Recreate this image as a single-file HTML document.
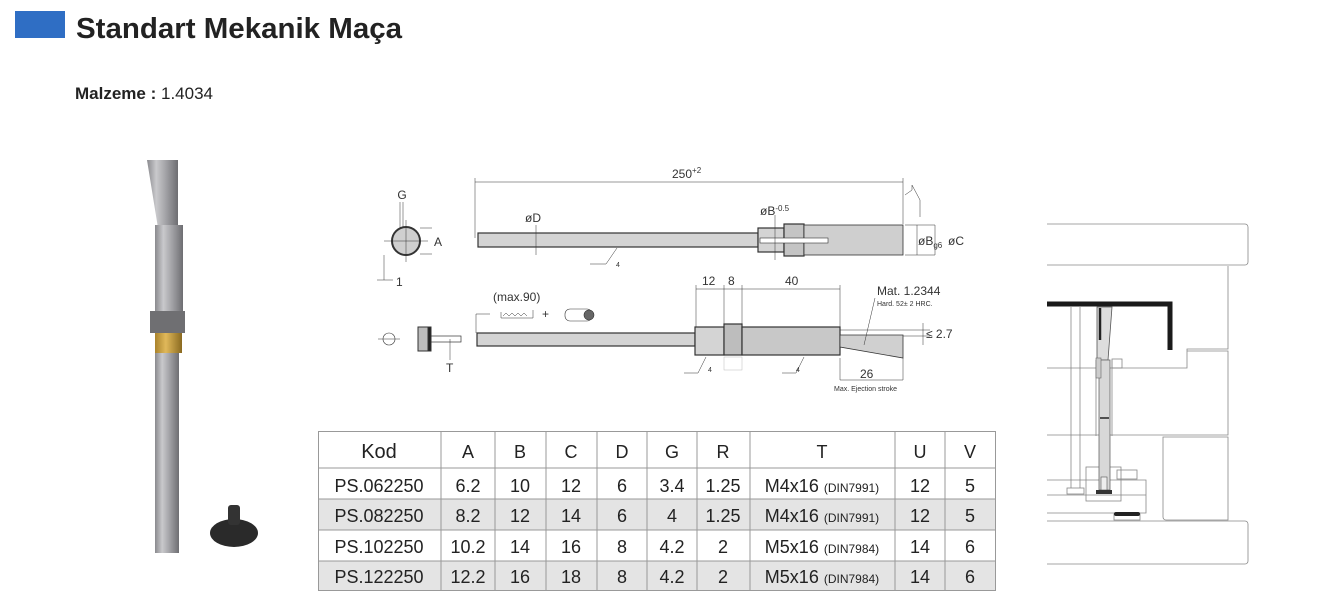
<!DOCTYPE html>
<html><head><meta charset="utf-8"><style>
body{margin:0;width:1342px;height:612px;background:#fff;overflow:hidden;font-family:"Liberation Sans",sans-serif}
svg{position:absolute;left:0;top:0}
</style></head><body>
<svg width="1342" height="612" viewBox="0 0 1342 612" font-family="Liberation Sans, sans-serif">
<defs>
<linearGradient id="metal" x1="0" x2="1"><stop offset="0" stop-color="#8a8a8e"/><stop offset=".3" stop-color="#c9c9cc"/><stop offset=".6" stop-color="#a3a3a7"/><stop offset="1" stop-color="#6e6e72"/></linearGradient>
<linearGradient id="brass" x1="0" x2="1"><stop offset="0" stop-color="#a9832c"/><stop offset=".4" stop-color="#e0b85a"/><stop offset="1" stop-color="#8a6a20"/></linearGradient>
</defs>
<rect x="15" y="11" width="50" height="27" fill="#2f6ec4"/>
<text x="76" y="38" font-size="29" font-weight="bold" fill="#222" textLength="326" lengthAdjust="spacingAndGlyphs">Standart Mekanik Maça</text>
<text x="75" y="99" font-size="17" font-weight="bold" fill="#222">Malzeme : <tspan font-weight="normal">1.4034</tspan></text>

<!-- photo -->
<polygon points="147,160 178,160 178,225 158,228" fill="url(#metal)"/>
<rect x="155" y="225" width="28" height="88" fill="url(#metal)"/>
<rect x="150" y="311" width="35" height="22" fill="#6f6f72"/>
<rect x="155" y="333" width="27" height="20" fill="url(#brass)"/>
<rect x="155" y="353" width="24" height="200" fill="url(#metal)"/>
<ellipse cx="234" cy="533" rx="24" ry="14" fill="#2a2a2a"/>
<rect x="228" y="505" width="12" height="20" rx="3" fill="#333"/>

<g stroke="#333" fill="none" stroke-width="1">
<circle cx="406" cy="241" r="14" fill="#cfcfcf" stroke-width="2"/>
<line x1="384" y1="241" x2="428" y2="241" stroke-width=".5"/>
<line x1="406" y1="220" x2="406" y2="262" stroke-width=".5"/>
<line x1="400" y1="202" x2="400" y2="228" stroke-width=".5"/><line x1="403" y1="202" x2="403" y2="228" stroke-width=".5"/>
<line x1="420" y1="228" x2="432" y2="228" stroke-width=".5"/><line x1="420" y1="254" x2="432" y2="254" stroke-width=".5"/>
<line x1="384" y1="255" x2="384" y2="280" stroke-width=".5"/><line x1="377" y1="280" x2="393" y2="280" stroke-width=".5"/>
<line x1="475" y1="182" x2="903" y2="182" stroke-width=".6"/>
<line x1="475" y1="178" x2="475" y2="238" stroke-width=".5"/>
<line x1="903" y1="178" x2="903" y2="224" stroke-width=".5"/>
<polyline points="905,195 912,190 912,185 920,200 920,217" stroke-width=".5"/>
<rect x="478" y="233" width="280" height="14" fill="#d4d4d4" stroke-width="1.2"/>
<rect x="758" y="228" width="26" height="24" fill="#d4d4d4" stroke-width="1.2"/>
<rect x="784" y="224" width="20" height="32" fill="#c4c4c4" stroke-width="1.2"/>
<rect x="804" y="225" width="99" height="30" fill="#cfcfcf" stroke-width=".8"/>
<rect x="760" y="238" width="68" height="5" fill="#fff" stroke-width=".6"/>
<line x1="905" y1="225" x2="935" y2="225" stroke-width=".5"/><line x1="905" y1="255" x2="935" y2="255" stroke-width=".5"/>
<line x1="917" y1="225" x2="917" y2="255" stroke-width=".5"/><line x1="935" y1="225" x2="935" y2="255" stroke-width=".5"/>
<line x1="536" y1="225" x2="536" y2="255" stroke-width=".5"/>
<line x1="775" y1="215" x2="775" y2="260" stroke-width=".5"/>
<polyline points="590,264 606,264 617,248" stroke-width=".5"/>
<line x1="696" y1="289" x2="840" y2="289" stroke-width=".5"/>
<line x1="696" y1="285" x2="696" y2="330" stroke-width=".5"/><line x1="724" y1="285" x2="724" y2="326" stroke-width=".5"/>
<line x1="742" y1="285" x2="742" y2="326" stroke-width=".5"/><line x1="840" y1="285" x2="840" y2="330" stroke-width=".5"/>
<rect x="477" y="333" width="218" height="13" fill="#d4d4d4" stroke-width="1.2"/>
<rect x="695" y="327" width="29" height="28" fill="#d4d4d4" stroke-width="1.2"/>
<rect x="724" y="324" width="18" height="31" fill="#bdbdbd" stroke-width="1.2"/>
<rect x="742" y="327" width="98" height="28" fill="#c8c8c8" stroke-width="1.2"/>
<polygon points="840,335 903,335 903,358 840,347" fill="#d0d0d0" stroke-width=".8"/>
<line x1="840" y1="330" x2="930" y2="330" stroke-width=".5"/><line x1="903" y1="336" x2="930" y2="336" stroke-width=".5"/>
<line x1="923" y1="323" x2="923" y2="345" stroke-width=".5"/>
<line x1="903" y1="358" x2="903" y2="380" stroke-width=".5"/><line x1="840" y1="358" x2="840" y2="380" stroke-width=".5"/>
<line x1="840" y1="380" x2="903" y2="380" stroke-width=".5"/>
<line x1="875" y1="298" x2="864" y2="345" stroke-width=".5"/>
<polyline points="684,373 698,373 706,357" stroke-width=".5"/>
<polyline points="782,373 796,373 804,357" stroke-width=".5"/>
<rect x="724" y="357" width="18" height="13" stroke="#bbb" stroke-width=".5"/>
<rect x="418" y="327" width="12" height="24" fill="#bbb" stroke-width="1"/>
<rect x="428" y="327" width="3" height="24" fill="#222"/>
<rect x="431" y="336" width="30" height="6" stroke-width=".7"/>
<circle cx="389" cy="339" r="6" stroke-width=".6"/>
<line x1="378" y1="339" x2="400" y2="339" stroke-width=".5"/>
<line x1="450" y1="339" x2="450" y2="360" stroke-width=".5"/>
<line x1="476" y1="314" x2="476" y2="333" stroke-width=".5"/><line x1="476" y1="314" x2="490" y2="314" stroke-width=".5"/>
<polyline points="501,312 501,318 533,318 533,310" stroke-width=".5"/>
<path d="M503,316 l3,-3 3,3 3,-3 3,3 3,-3 3,3 3,-3 3,3" stroke-width=".5"/>
<rect x="565" y="309" width="27" height="12" rx="5" stroke-width=".6"/>
<circle cx="589" cy="315" r="5" fill="#666" stroke-width=".6"/>
</g>
<g font-size="12" fill="#333">
<text x="402" y="199" text-anchor="middle">G</text>
<text x="434" y="246">A</text>
<text x="396" y="286">1</text>
<text x="672" y="178">250<tspan font-size="8" dy="-5">+2</tspan></text>
<text x="525" y="222">øD</text>
<text x="760" y="215">øB<tspan font-size="8" dy="-4">-0.5</tspan></text>
<text x="918" y="245">øB<tspan font-size="8" dy="3">g6</tspan></text>
<text x="948" y="245">øC</text>
<text x="702" y="285">12</text><text x="728" y="285">8</text><text x="785" y="285">40</text>
<text x="877" y="295">Mat. 1.2344</text>
<text x="877" y="306" font-size="7">Hard. 52± 2 HRC.</text>
<text x="926" y="338">≤ 2.7</text>
<text x="860" y="378">26</text>
<text x="834" y="391" font-size="7">Max. Ejection stroke</text>
<text x="493" y="301">(max.90)</text>
<text x="542" y="318">+</text>
<text x="446" y="372">T</text>
<text x="616" y="267" font-size="7">4</text><text x="708" y="372" font-size="7">4</text><text x="796" y="372" font-size="7">4</text>
</g>

<g stroke="#999" stroke-width="1">
<rect x="318" y="499" width="677" height="31" fill="#e4e4e4" stroke="none"/>
<rect x="318" y="561" width="677" height="29" fill="#e4e4e4" stroke="none"/>
<rect x="318.5" y="431.5" width="677" height="159" fill="none"/>
<line x1="318" y1="468" x2="995" y2="468"/><line x1="318" y1="499" x2="995" y2="499"/>
<line x1="318" y1="530" x2="995" y2="530"/><line x1="318" y1="561" x2="995" y2="561"/>
<line x1="441" y1="431" x2="441" y2="590"/><line x1="495" y1="431" x2="495" y2="590"/>
<line x1="546" y1="431" x2="546" y2="590"/><line x1="597" y1="431" x2="597" y2="590"/>
<line x1="647" y1="431" x2="647" y2="590"/><line x1="697" y1="431" x2="697" y2="590"/>
<line x1="750" y1="431" x2="750" y2="590"/><line x1="895" y1="431" x2="895" y2="590"/>
<line x1="945" y1="431" x2="945" y2="590"/>
</g>
<g font-size="18" fill="#222" text-anchor="middle">
<text x="379" y="458" font-size="20">Kod</text><text x="468" y="458">A</text><text x="520" y="458">B</text><text x="571" y="458">C</text><text x="622" y="458">D</text><text x="672" y="458">G</text><text x="723" y="458">R</text><text x="822" y="458">T</text><text x="920" y="458">U</text><text x="970" y="458">V</text>
<text x="379" y="492">PS.062250</text><text x="468" y="492">6.2</text><text x="520" y="492">10</text><text x="571" y="492">12</text><text x="622" y="492">6</text><text x="672" y="492">3.4</text><text x="723" y="492">1.25</text><text x="822" y="492">M4x16 <tspan font-size="12">(DIN7991)</tspan></text><text x="920" y="492">12</text><text x="970" y="492">5</text>
<text x="379" y="522">PS.082250</text><text x="468" y="522">8.2</text><text x="520" y="522">12</text><text x="571" y="522">14</text><text x="622" y="522">6</text><text x="672" y="522">4</text><text x="723" y="522">1.25</text><text x="822" y="522">M4x16 <tspan font-size="12">(DIN7991)</tspan></text><text x="920" y="522">12</text><text x="970" y="522">5</text>
<text x="379" y="553">PS.102250</text><text x="468" y="553">10.2</text><text x="520" y="553">14</text><text x="571" y="553">16</text><text x="622" y="553">8</text><text x="672" y="553">4.2</text><text x="723" y="553">2</text><text x="822" y="553">M5x16 <tspan font-size="12">(DIN7984)</tspan></text><text x="920" y="553">14</text><text x="970" y="553">6</text>
<text x="379" y="583">PS.122250</text><text x="468" y="583">12.2</text><text x="520" y="583">16</text><text x="571" y="583">18</text><text x="622" y="583">8</text><text x="672" y="583">4.2</text><text x="723" y="583">2</text><text x="822" y="583">M5x16 <tspan font-size="12">(DIN7984)</tspan></text><text x="920" y="583">14</text><text x="970" y="583">6</text>
</g>

<g stroke="#888" fill="none" stroke-width="0.8">
<path d="M1047,224 H1245 a3,3 0 0 1 3,3 V262 a3,3 0 0 1 -3,3 H1047"/>
<path d="M1228,266 V349 H1187 V368 H1047"/>
<path d="M1187,351 H1228 V435 H1047"/>
<path d="M1163,437 H1228 V520 H1166 a3,3 0 0 1 -3,-3 Z"/>
<path d="M1047,521 H1245 a3,3 0 0 1 3,3 V561 a3,3 0 0 1 -3,3 H1047"/>
<line x1="1071" y1="307" x2="1071" y2="488"/><line x1="1080" y1="307" x2="1080" y2="488"/>
<rect x="1067" y="488" width="17" height="6"/>
<rect x="1086" y="467" width="35" height="34"/>
<path d="M1047,480 H1146 V513 H1047"/><line x1="1047" y1="495" x2="1146" y2="495"/>
<rect x="1117" y="470" width="20" height="9"/>
<rect x="1114" y="514" width="26" height="6"/>
<line x1="1096" y1="360" x2="1096" y2="436"/><line x1="1112" y1="360" x2="1112" y2="436"/>
<rect x="1112" y="359" width="10" height="9"/>
</g>
<polygon points="1097,307 1112,307 1108,360 1097,360" fill="#ddd" stroke="#555" stroke-width=".8"/>
<rect x="1099" y="360" width="11" height="130" fill="#d8d8d8" stroke="#666" stroke-width=".8"/>
<rect x="1096" y="358" width="5" height="20" fill="#ccc" stroke="#666" stroke-width=".6"/>
<line x1="1100" y1="418" x2="1109" y2="418" stroke="#222" stroke-width="1.5"/>
<rect x="1101" y="477" width="6" height="13" fill="#eee" stroke="#555" stroke-width=".6"/>
<rect x="1096" y="490" width="16" height="4" fill="#333"/>
<rect x="1114" y="512" width="26" height="4" rx="2" fill="#222"/>
<path d="M1047,304 H1170 V350" stroke="#1a1a1a" stroke-width="5" fill="none"/>
<line x1="1100" y1="308" x2="1100" y2="340" stroke="#222" stroke-width="2.5"/>
</svg>
</body></html>
